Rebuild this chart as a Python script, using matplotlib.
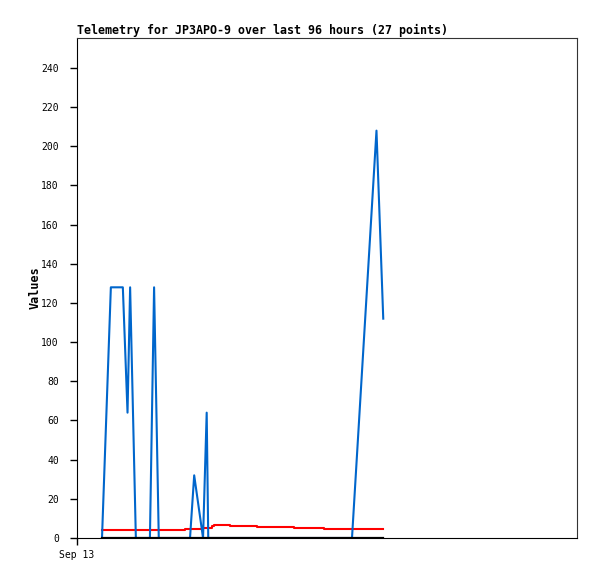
import matplotlib
matplotlib.use("Agg")
import matplotlib.pyplot as plt

# hours since Sep 13 00:00
hours = [4.8, 6.5, 8.8, 9.7, 10.2, 11.3, 14.0, 14.8, 15.7, 20.7, 21.7, 22.5,
         24.2, 24.9, 25.2, 25.9, 26.3, 29.4, 34.6, 41.7, 47.4, 52.8, 57.5, 58.8]
blue_vals = [0, 128, 128, 64, 128, 0, 0, 128, 0, 0, 0, 32,
             0, 64, 0, 0, 0, 0, 0, 0, 0, 0, 208, 112]
red_vals = [4, 4, 4, 4, 4, 4, 4, 4, 4, 4.6, 4.6, 4.8,
            5.0, 5.0, 5.0, 6.3, 6.8, 6.3, 5.6, 5.1, 4.6, 4.6, 4.6, 4.6]
black_vals = [0] * len(hours)

yticks = list(range(0, 241, 20))
xtick_pos = [0]
xtick_labels = ["Sep 13"]

fig = plt.figure(figsize=(5.97, 5.79), dpi=100)
ax = fig.add_axes([77/597, 41/579, 500/597, 500/579])

mono = "DejaVu Sans Mono"
ax.plot(hours, red_vals, color="#ff0000", lw=1.5, drawstyle="steps-post")
ax.plot(hours, blue_vals, color="#0066cc", lw=1.5)
ax.plot(hours, black_vals, color="#000000", lw=1.6)

ax.set_xlim(0, 96)
ax.set_ylim(0, 255.3)
ax.set_yticks(yticks)
ax.set_yticklabels([str(v) for v in yticks], fontfamily=mono, fontsize=7)
ax.set_xticks(xtick_pos)
ax.set_xticklabels(xtick_labels, fontfamily=mono, fontsize=7)
ax.tick_params(axis="both", direction="out", length=5, width=1, color="#000000", pad=8)
ax.tick_params(axis="x", pad=4)

for s in ax.spines.values():
    s.set_color("#333333")
    s.set_linewidth(0.8)
ax.spines["left"].set_color("#000000")
ax.spines["bottom"].set_color("#000000")

ax.set_ylabel("Values", fontfamily=mono, fontweight="bold", fontsize=8.5, labelpad=0)
ax.set_title("Telemetry for JP3APO-9 over last 96 hours (27 points)",
             loc="left", fontfamily=mono, fontweight="bold", fontsize=8.4, pad=3)

fig.savefig("out.png", dpi=100)
